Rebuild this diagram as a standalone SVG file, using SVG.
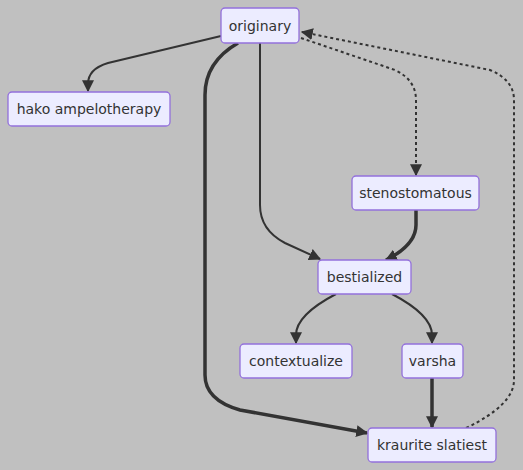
<svg xmlns="http://www.w3.org/2000/svg" width="523" height="470" viewBox="0 0 523 470">
<style>
.node rect{fill:#ECECFF;stroke:#9370DB;stroke-width:1.3}
.node text{font-family:"DejaVu Sans",Verdana,sans-serif;font-size:14px;fill:#333;text-anchor:middle;dominant-baseline:central}
.e{fill:none;stroke:#333;stroke-width:2}
.thick{stroke-width:3.5}
.dot{stroke-dasharray:3 3}
</style>
<defs>
<marker id="ah" viewBox="0 0 10 10" refX="9" refY="5" markerWidth="12" markerHeight="12" markerUnits="userSpaceOnUse" orient="auto"><path d="M0,0 L10,5 L0,10 z" fill="#333"/></marker>
</defs>
<rect width="523" height="470" fill="#c0c0c0"/>
<g id="edges">
<path class="e" d="M221,36 L108,63 Q88,69 88,84 L88,91" marker-end="url(#ah)"/>
<path class="e" d="M260,43 L260,205 Q260,230 285,243 L320,259" marker-end="url(#ah)"/>
<path class="e thick" d="M238,43 Q205,62 205,95 L205,375 Q205,400 240,410 L367,433" marker-end="url(#ah)"/>
<path class="e dot" d="M301,38 L395,70 Q416,80 416,100 L416,175" marker-end="url(#ah)"/>
<path class="e dot" d="M466,428 Q514,405 514,380 L514,100 Q514,80 490,70 L302,32" marker-end="url(#ah)"/>
<path class="e thick" d="M416,210 L416,225 Q416,245 386,260" marker-end="url(#ah)"/>
<path class="e" d="M336,294 Q296,315 296,335 L296,343" marker-end="url(#ah)"/>
<path class="e" d="M392,294 Q432,315 432,335 L432,343" marker-end="url(#ah)"/>
<path class="e thick" d="M432,378 L432,427" marker-end="url(#ah)"/>
</g>
<g id="originary" class="node"><rect x="221" y="8" width="78" height="35" rx="4"/><text x="260" y="25.5">originary</text></g>
<g id="hako" class="node"><rect x="8" y="92" width="162" height="34" rx="4"/><text x="89" y="109">hako ampelotherapy</text></g>
<g id="stenostomatous" class="node"><rect x="352" y="176" width="127" height="34" rx="4"/><text x="415.5" y="193">stenostomatous</text></g>
<g id="bestialized" class="node"><rect x="318" y="260" width="93" height="34" rx="4"/><text x="364.5" y="277">bestialized</text></g>
<g id="contextualize" class="node"><rect x="240" y="344" width="112" height="34" rx="4"/><text x="296" y="361">contextualize</text></g>
<g id="varsha" class="node"><rect x="402" y="344" width="61" height="34" rx="4"/><text x="432.5" y="361">varsha</text></g>
<g id="kraurite" class="node"><rect x="368" y="428" width="128" height="34" rx="4"/><text x="432" y="445">kraurite slatiest</text></g>
</svg>
